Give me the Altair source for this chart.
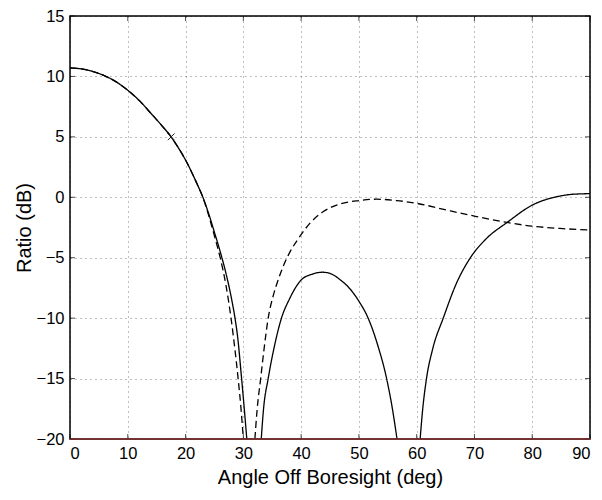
import altair as alt
import pandas as pd

# ---- data ----
# solid curve, three lobes (values below -20 dB are clipped by the axis)
solid_main_x = [0, 2, 4, 6, 8, 10, 12, 14, 16, 17.5, 18, 20, 22, 23, 24, 25, 26, 27, 28, 28.56, 29, 29.7, 30.2, 30.6]
solid_main_y = [10.7, 10.62, 10.4, 10.05, 9.55, 8.85, 8.0, 6.95, 5.87, 5.0, 4.65, 3.08, 1.1, 0.0, -1.35, -2.9, -4.5, -6.3, -8.5, -10.0, -11.5, -15.0, -17.7, -20.0]
solid_lobe2_x = [33.1, 33.5, 34.3, 35.3, 36.6, 38, 40, 42, 43.7, 45, 46.7, 48.5, 50, 51.6, 53.3, 54.8, 55.8, 56.6]
solid_lobe2_y = [-20.0, -17.5, -15.0, -12.5, -10.0, -8.4, -6.85, -6.35, -6.2, -6.3, -6.8, -7.6, -8.6, -10.0, -12.3, -15.0, -17.5, -20.0]
solid_lobe3_x = [60.6, 61.05, 61.7, 62.8, 64.6, 66.9, 69.3, 72.1, 75.6, 80, 84.8, 87, 90]
solid_lobe3_y = [-20.0, -17.5, -15.0, -12.5, -10.0, -7.1, -5.0, -3.4, -2.1, -0.65, 0.1, 0.25, 0.3]

# dashed curve, two parts
dashed_main_x = [0, 2, 4, 6, 8, 10, 12, 14, 16, 17.5, 18, 20, 22, 23, 24, 25, 26, 27, 27.87, 28.5, 29.1, 29.6, 30.0]
dashed_main_y = [10.7, 10.62, 10.4, 10.05, 9.55, 8.85, 8.0, 6.95, 5.87, 5.0, 4.65, 3.08, 1.1, 0.0, -1.5, -3.2, -5.0, -7.3, -10.0, -12.4, -15.0, -17.5, -20.0]
dashed_lobe2_x = [32.0, 32.4, 33.0, 33.6, 34.3, 35.2, 36.05, 37.0, 38.1, 39.7, 41.5, 43.8, 46.7, 50, 53.1, 56.5, 60, 65.2, 70, 75, 80, 84.8, 90]
dashed_lobe2_y = [-20.0, -17.5, -15.0, -12.5, -10.0, -8.1, -6.8, -5.6, -4.5, -3.3, -2.16, -1.2, -0.56, -0.27, -0.16, -0.27, -0.5, -1.06, -1.56, -2.03, -2.39, -2.58, -2.7]

marker_x = [17.5]
marker_y = [5.0]

floor_level = [-20]

x_ticks = [0, 10, 20, 30, 40, 50, 60, 70, 80, 90]
y_ticks = [-20, -15, -10, -5, 0, 5, 10, 15]

# ---- tables ----
rows = []
for name, xs, ys, series in [
    ("s1", solid_main_x, solid_main_y, "solid"),
    ("s2", solid_lobe2_x, solid_lobe2_y, "solid"),
    ("s3", solid_lobe3_x, solid_lobe3_y, "solid"),
    ("d1", dashed_main_x, dashed_main_y, "dashed"),
    ("d2", dashed_lobe2_x, dashed_lobe2_y, "dashed"),
]:
    for i, (a, b) in enumerate(zip(xs, ys)):
        rows.append({"x": a, "y": b, "series": series, "seg": name, "order": i})
df = pd.DataFrame(rows)
marker_df = pd.DataFrame({"x": marker_x, "y": marker_y})
xt_df = pd.DataFrame({"x": x_ticks})
yt_df = pd.DataFrame({"y": y_ticks})
floor_df = pd.DataFrame({"y": floor_level})

W, H = 520, 423
FONT = "Liberation Sans"

xscale = alt.Scale(domain=[0, 90], nice=False, zero=False)
yscale = alt.Scale(domain=[-20, 15], nice=False, zero=False)

xaxis = alt.Axis(values=x_ticks, title="Angle Off Boresight (deg)", format="d")
yaxis = alt.Axis(values=y_ticks, title="Ratio (dB)", format="d")

lines = alt.Chart(df).mark_line(
    color="black", strokeWidth=1.3, clip=True, interpolate="monotone"
).encode(
    x=alt.X("x:Q", scale=xscale, axis=xaxis),
    y=alt.Y("y:Q", scale=yscale, axis=yaxis),
    strokeDash=alt.StrokeDash(
        "series:N",
        scale=alt.Scale(domain=["solid", "dashed"], range=[[1, 0], [7, 4]]),
        legend=None,
    ),
    detail="seg:N",
    order="order:Q",
)

marker = alt.Chart(marker_df).mark_point(
    shape="M-1,-1L1,1M-1,1L1,-1", size=45, filled=False, color="#222",
    strokeWidth=1, opacity=1
).encode(x=alt.X("x:Q", scale=xscale), y=alt.Y("y:Q", scale=yscale))

floor = alt.Chart(floor_df).mark_rule(color="#8a3030", strokeWidth=1.5).encode(
    y=alt.Y("y:Q", scale=yscale)
)

tick_len = 5
xt_bottom = alt.Chart(xt_df).mark_tick(color="black", thickness=1, size=tick_len).encode(
    x=alt.X("x:Q", scale=xscale), y=alt.value(H - tick_len / 2)
)
xt_top = alt.Chart(xt_df).mark_tick(color="black", thickness=1, size=tick_len).encode(
    x=alt.X("x:Q", scale=xscale), y=alt.value(tick_len / 2)
)
yt_left = alt.Chart(yt_df).mark_tick(color="black", thickness=1, size=tick_len).encode(
    y=alt.Y("y:Q", scale=yscale), x=alt.value(tick_len / 2)
)
yt_right = alt.Chart(yt_df).mark_tick(color="black", thickness=1, size=tick_len).encode(
    y=alt.Y("y:Q", scale=yscale), x=alt.value(W - tick_len / 2)
)

chart = alt.layer(
    xt_bottom, xt_top, yt_left, yt_right, lines, marker, floor
).properties(
    width=W,
    height=H,
    autosize=alt.AutoSizeParams(type="none"),
    padding={"left": 62, "top": 8, "right": 4, "bottom": 52},
    background="white",
).configure_view(
    stroke="black", strokeWidth=1.5
).configure_axis(
    domain=False,
    ticks=False,
    tickSize=0,
    grid=True,
    gridColor="#000",
    gridOpacity=0.5,
    gridDash=[1, 4],
    gridWidth=1,
    labelFont=FONT,
    labelFontSize=16.5,
    labelColor="black",
    labelPadding=6,
    titleFont=FONT,
    titleFontSize=20,
    titleFontWeight="normal",
    titleColor="black",
).configure_axisX(
    titlePadding=6,
).configure_axisY(
    titlePadding=2,
)

chart.save("out.html", embed_options={"renderer": "svg", "actions": False})
